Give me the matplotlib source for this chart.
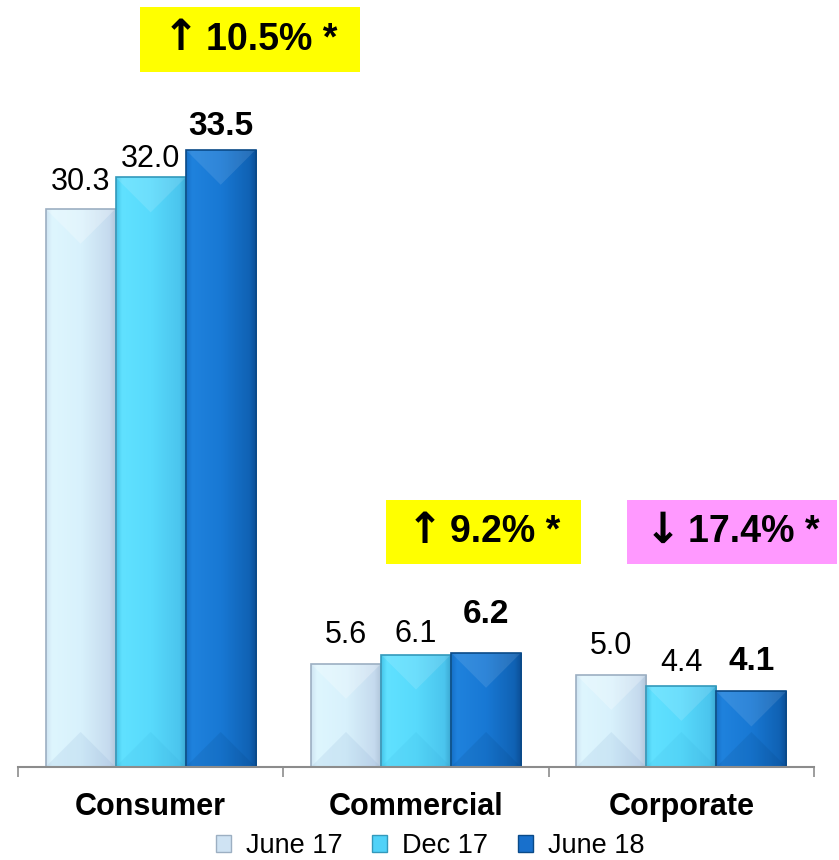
import numpy as np
import matplotlib
matplotlib.use("Agg")
import matplotlib.pyplot as plt
from matplotlib.patches import Polygon, Rectangle, Patch
from matplotlib.colors import to_rgb

# ---- data ----
categories = ["Consumer", "Commercial", "Corporate"]
series_names = ["June 17", "Dec 17", "June 18"]
june17 = [30.3, 5.6, 5.0]
dec17 = [32.0, 6.1, 4.4]
june18 = [33.5, 6.2, 4.1]
change_labels = ["\u2191 10.5% *", "\u2191 9.2% *", "\u2193 17.4% *"]

series_values = [june17, dec17, june18]

# ---- style ----
plt.rcParams["font.family"] = ["Liberation Sans", "DejaVu Sans"]

# horizontal shading stops (left edge -> right edge) per series
shade_stops = [0.0, 0.08, 0.5, 0.9, 1.0]
shades = [
    ["#CFE4F3", "#DEF6FE", "#D8F1FC", "#C5DAEE", "#B0C4D9"],
    ["#46C6EA", "#60E1FF", "#58DAFC", "#4BC5EE", "#3AA6CF"],
    ["#1670C8", "#1F82DD", "#1878D4", "#1062B4", "#0B4E96"],
]
edge_colors = ["#9CAFC2", "#3399BB", "#0A4A88"]
top_tint = [("#FFFFFF", 0.25), ("#FFFFFF", 0.12), ("#FFFFFF", 0.10)]
bottom_tint = [("#6F98C8", 0.12), ("#1E90C0", 0.08), ("#003060", 0.10)]
legend_colors = ["#CFE3F3", "#50D2F8", "#1870CC"]

value_weights = ["normal", "normal", "bold"]
value_sizes = [22, 22, 24]
# gap (pixels) between each bar top and its value label baseline: [series][category]
label_pad_px = [[19, 21, 21], [10, 13, 15], [15, 30, 21]]

W, H = 839, 860
fig = plt.figure(figsize=(W / 100, H / 100), dpi=100)
fig.patch.set_facecolor("white")

ax_left, ax_right, ax_bottom, ax_top = 18, 814, 767, 30
ymax = 40
ax = fig.add_axes([ax_left / W, 1 - ax_bottom / H,
                   (ax_right - ax_left) / W, (ax_bottom - ax_top) / H])
ax.set_facecolor("none")

x = np.arange(len(categories))
px_per_x = (ax_right - ax_left) / len(categories)
px_per_y = (ax_bottom - ax_top) / ymax
bar_w = 0.264
offsets = [-bar_w, 0.0, bar_w]


def gradient_row(colors, n=64):
    rgb = np.array([to_rgb(c) for c in colors])
    t = np.linspace(0, 1, n)
    return np.stack([np.interp(t, shade_stops, rgb[:, k]) for k in range(3)], axis=-1)


for i, vals in enumerate(series_values):
    bars = ax.bar(x + offsets[i], vals, bar_w, color=legend_colors[i],
                  edgecolor="none", linewidth=0, zorder=2)
    grad = gradient_row(shades[i])[np.newaxis, :, :]
    for j, rect in enumerate(bars):
        x0, w, h = rect.get_x(), rect.get_width(), rect.get_height()
        im = ax.imshow(grad, extent=(x0, x0 + w, 0, h), aspect="auto",
                       interpolation="bilinear", zorder=2.1)
        im.set_clip_path(rect)
        # bevel facets
        d = (w * px_per_x / 2) / px_per_y
        d = min(d, h / 2)
        tc, ta = top_tint[i]
        bc, ba = bottom_tint[i]
        ax.add_patch(Polygon([(x0, h), (x0 + w, h), (x0 + w / 2, h - d)],
                             closed=True, facecolor=tc, alpha=ta,
                             edgecolor="none", zorder=2.2))
        ax.add_patch(Polygon([(x0, 0), (x0 + w, 0), (x0 + w / 2, d)],
                             closed=True, facecolor=bc, alpha=ba,
                             edgecolor="none", zorder=2.2))
        ax.add_patch(Rectangle((x0, 0), w, h, fill=False,
                               edgecolor=edge_colors[i], linewidth=1.2,
                               zorder=2.3))
        ax.annotate(f"{vals[j]:.1f}", xy=(x0 + w / 2, h),
                    xytext=(0, label_pad_px[i][j] * 0.72),
                    textcoords="offset points", ha="center", va="baseline",
                    fontsize=value_sizes[i], fontweight=value_weights[i],
                    color="black", zorder=5)

ax.set_xlim(-0.5, len(categories) - 0.5)
ax.set_ylim(0, ymax)

for s in ["top", "left", "right"]:
    ax.spines[s].set_visible(False)
ax.spines["bottom"].set_color("#8C8C8C")
ax.spines["bottom"].set_linewidth(1.5)
ax.spines["bottom"].set_zorder(3)
ax.set_yticks([])
ax.set_xticks(x)
ax.set_xticklabels(categories, fontsize=22, fontweight="bold")
ax.tick_params(axis="x", which="major", length=0, pad=18)
ax.set_xticks(np.arange(len(categories) + 1) - 0.5, minor=True)
ax.tick_params(axis="x", which="minor", length=7, width=1.2,
               color="#8C8C8C", direction="out")

# percentage change call-outs
boxes = [(140, 7, 360, 72), (386, 500, 581, 564), (627, 500, 837, 564)]
box_colors = ["#FFFF00", "#FFFF00", "#FF99FF"]
for (bx0, by0, bx1, by1), fc in zip(boxes, box_colors):
    fig.patches.append(Rectangle((bx0 / W, 1 - by1 / H), (bx1 - bx0) / W,
                                 (by1 - by0) / H, transform=fig.transFigure,
                                 facecolor=fc, edgecolor="none", zorder=1))

fig.canvas.draw()
renderer = fig.canvas.get_renderer()
arrow_gap = 8
for (bx0, by0, bx1, by1), text in zip(boxes, change_labels):
    arrow, rest = text.split(" ", 1)
    cx, cy = (bx0 + bx1) / 2, 1 - (by0 + by1) / 2 / H
    t_arrow = fig.text(0, cy + 1 / H, arrow, ha="left", va="center", fontsize=31,
                       fontweight="bold", family=["DejaVu Sans"],
                       color="black", zorder=6)
    t_rest = fig.text(0, cy, rest, ha="left", va="center", fontsize=27,
                      fontweight="bold", color="black", zorder=6)
    wa = t_arrow.get_window_extent(renderer).width
    wr = t_rest.get_window_extent(renderer).width
    start = cx - (wa + arrow_gap + wr) / 2
    t_arrow.set_x(start / W)
    t_rest.set_x((start + wa + arrow_gap) / W)

handles = [Patch(facecolor=legend_colors[i], edgecolor=edge_colors[i], linewidth=1)
           for i in range(3)]
fig.legend(handles, series_names, loc="center",
           bbox_to_anchor=(430 / W, 1 - 846 / H), ncol=3, frameon=False,
           fontsize=19.5, handlelength=0.55, handleheight=0.55,
           handletextpad=0.55, columnspacing=1.1, borderpad=0)

fig.savefig("out.png", dpi=100)
